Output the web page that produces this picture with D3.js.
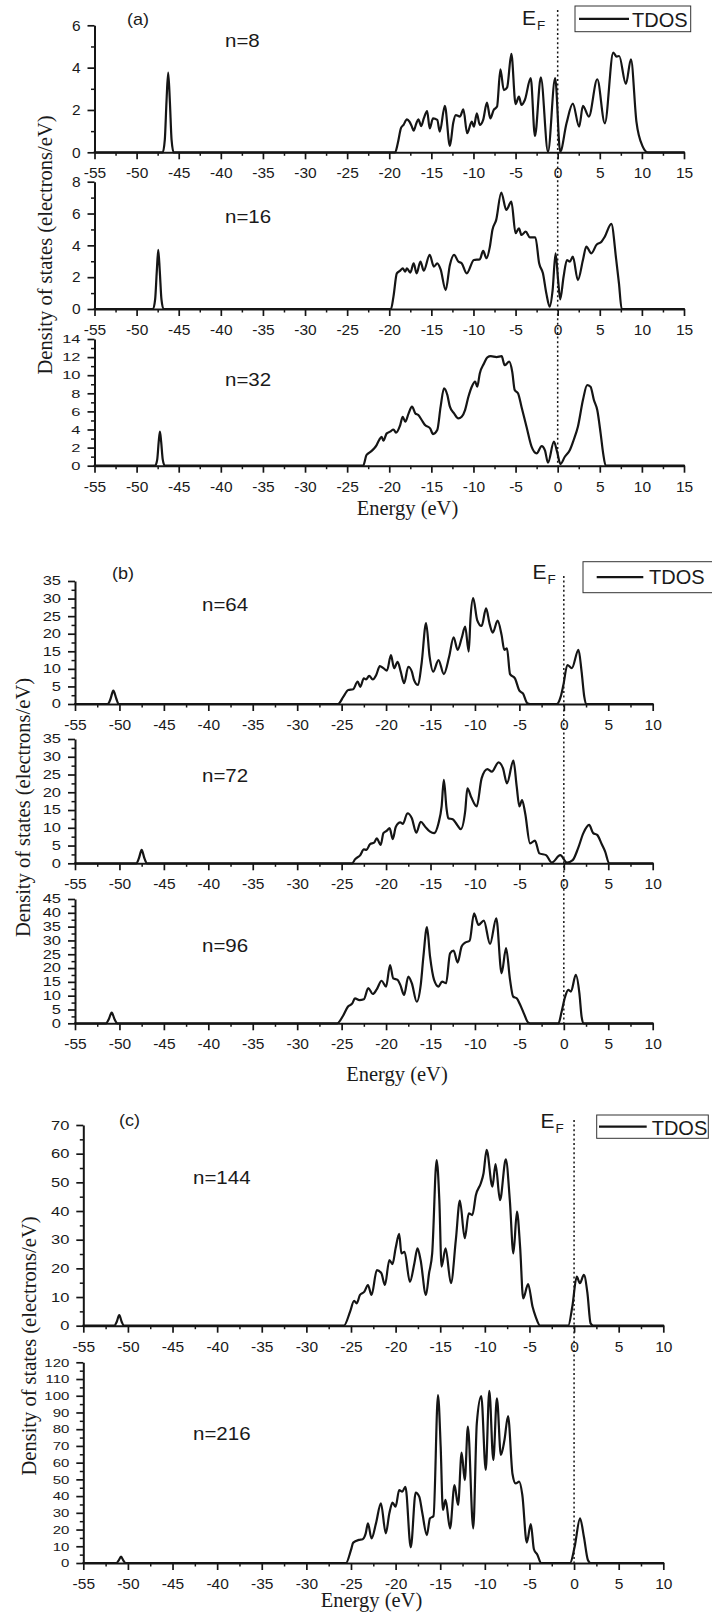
<!DOCTYPE html>
<html>
<head>
<meta charset="utf-8">
<script src="https://cdn.jsdelivr.net/npm/d3@7"></script>
<style>
  body { margin: 0; background: #fff; }
  svg { display: block; }
</style>
</head>
<body>
<svg id="fig" width="712" height="1615"></svg>
<script>
// ---- Total density of states, [energy (eV), DOS (electrons/eV)] ----
const dosN8 = [[-55,0],[-46.9,0],[-46.65,0.6],[-46.45,2.4],[-46.25,3.76],[-46.05,2.4],[-45.85,0.6],[-45.6,0],
  [-19.3,0],[-19.0,0.4],[-18.6,1.15],[-18.3,1.3],[-17.9,1.56],[-17.6,1.45],[-17.35,1.25],[-17.1,1.02],[-16.8,1.35],
  [-16.55,1.56],[-16.2,1.24],[-15.9,1.6],[-15.5,1.95],[-15.2,1.13],[-14.8,1.6],[-14.3,1.53],[-14.0,0.98],[-13.4,2.2],
  [-12.8,0.3],[-12.4,1.4],[-12.1,1.76],[-11.6,1.69],[-11.2,2.03],[-10.75,0.9],[-10.2,1.45],[-9.95,1.21],[-9.6,1.84],
  [-9.25,1.29],[-8.85,1.53],[-8.4,2.35],[-8.0,1.6],[-7.6,2.0],[-7.2,2.16],[-6.8,3.92],[-6.4,2.94],[-6.0,3.07],
  [-5.5,4.65],[-5.0,2.28],[-4.6,2.63],[-4.3,2.24],[-3.9,2.47],[-3.2,3.5],[-2.7,0.77],[-2.0,3.54],[-1.15,0.03],
  [-0.3,3.5],[0.3,0.03],[1.05,1.37],[1.8,2.3],[2.55,1.21],[3.0,2.19],[3.7,1.69],[4.7,3.45],[5.6,1.37],[6.6,4.71],
  [7.0,4.52],[7.3,4.55],[8.1,3.23],[8.7,4.39],[9.35,1.45],[10.1,0.27],[10.7,0],[15,0]];

const dosN16 = [[-55,0],[-48.05,0],[-47.8,0.6],[-47.6,2.4],[-47.43,3.71],[-47.25,2.4],[-47.05,0.6],[-46.8,0],
  [-19.8,0],[-19.5,0.78],[-19.1,2.24],[-18.7,2.41],[-18.4,2.56],[-18.1,2.35],[-17.9,2.56],[-17.5,2.29],[-17.1,2.87],
  [-16.75,2.24],[-16.3,2.98],[-15.9,2.41],[-15.2,3.4],[-14.7,2.66],[-14.3,2.87],[-13.9,2.49],[-13.3,1.19],[-12.8,2.77],
  [-12.3,3.4],[-11.8,2.98],[-11.4,2.87],[-10.8,2.24],[-9.95,3.08],[-9.25,3.12],[-8.85,3.65],[-8.45,3.19],[-8.05,3.92],
  [-7.75,4.97],[-7.3,5.6],[-6.7,7.32],[-6.1,6.23],[-5.5,6.75],[-5.0,4.76],[-4.6,5.07],[-4.3,4.65],[-3.8,4.86],
  [-3.3,4.5],[-2.65,4.5],[-2.2,2.87],[-1.75,2.24],[-1.35,0.99],[-0.95,0.15],[-0.6,1.19],[-0.25,3.5],[0.05,1.82],
  [0.3,0.61],[0.7,2.03],[1.1,3.08],[1.45,2.98],[1.8,3.29],[2.4,1.82],[3.0,3.08],[3.4,3.92],[4.0,3.5],[4.6,4.03],
  [5.2,4.23],[5.6,4.55],[6.37,5.35],[6.95,3.1],[7.28,1.6],[7.6,0],[15,0]];

const dosN32 = [[-55,0],[-47.8,0],[-47.55,0.7],[-47.38,2.6],[-47.23,3.76],[-47.08,2.6],[-46.9,0.7],[-46.65,0],
  [-23.1,0],[-22.7,1.18],[-22.2,1.55],[-21.8,1.9],[-21.5,2.28],[-21.2,2.84],[-20.9,3.2],[-20.7,2.76],[-20.3,3.57],
  [-19.9,3.76],[-19.5,4.0],[-19.2,3.65],[-18.7,4.49],[-18.4,5.41],[-18.1,4.86],[-17.7,5.78],[-17.3,6.52],[-16.9,5.78],
  [-16.55,5.6],[-16.15,5.05],[-15.75,4.49],[-15.15,4.13],[-14.8,3.5],[-14.3,3.94],[-13.9,6.52],[-13.5,8.55],
  [-13.1,7.81],[-12.8,6.52],[-12.3,5.78],[-11.8,5.23],[-11.4,5.41],[-11.0,6.15],[-10.6,7.62],[-10.2,8.73],[-9.8,9.28],
  [-9.55,8.73],[-9.25,10.2],[-8.75,11.3],[-8.35,11.97],[-7.95,12.1],[-7.25,12.0],[-6.65,12.1],[-6.3,11.1],
  [-5.75,11.5],[-5.4,10.4],[-5.1,8.36],[-4.7,7.99],[-4.3,6.52],[-3.7,4.3],[-3.1,2.1],[-2.5,1.36],[-1.9,2.17],
  [-1.5,1.66],[-1.15,0.33],[-0.45,2.65],[-0.07,1.55],[0.33,0.18],[0.85,0.99],[1.45,1.73],[1.9,2.84],[2.4,4.3],
  [3.0,7.26],[3.5,8.91],[3.9,8.73],[4.3,7.26],[4.7,6.15],[5.1,3.57],[5.4,1.36],[5.7,0],[15,0]];

const dosN64 = [[-55,0],[-51.3,0],[-51.0,1.5],[-50.69,3.8],[-50.35,1.5],[-50.1,0],
  [-25.4,0],[-24.8,2.1],[-24.25,4.0],[-23.7,4.2],[-23.2,6.4],[-22.9,4.9],[-22.5,7.3],[-22.25,7.0],[-21.9,8.0],
  [-21.5,7.0],[-21.1,8.3],[-20.7,10.8],[-20.3,10.2],[-19.9,9.5],[-19.45,13.9],[-19.1,10.2],[-18.7,12.0],[-18.35,9.2],
  [-17.97,5.9],[-17.5,10.6],[-17.1,9.2],[-16.85,6.8],[-16.4,5.4],[-16.0,11.6],[-15.5,23.0],[-15.1,13.5],[-14.7,9.2],
  [-14.1,12.5],[-13.5,8.5],[-12.9,13.5],[-12.4,19.0],[-11.95,15.4],[-11.5,18.7],[-11.1,22.0],[-10.7,14.9],
  [-10.5,24.4],[-10.2,30.1],[-9.75,23.9],[-9.25,22.2],[-8.75,27.2],[-8.35,22.8],[-8.0,20.3],[-7.45,23.7],[-7.0,19.6],
  [-6.7,15.4],[-6.4,15.8],[-6.05,8.5],[-5.5,7.3],[-5.0,3.8],[-4.6,3.0],[-4.1,0.2],[-3.8,0],[-0.8,0],[-0.35,2.1],
  [-0.05,5.4],[0.4,11.1],[0.9,10.2],[1.65,15.4],[2.0,9.2],[2.3,2.1],[2.5,0],[10,0]];

const dosN72 = [[-55,0],[-48.1,0],[-47.8,1.5],[-47.5,3.76],[-47.2,1.5],[-46.9,0],
  [-23.8,0],[-23.5,1.1],[-22.9,2.3],[-22.5,3.9],[-22.2,3.8],[-21.8,5.4],[-21.35,5.8],[-21.05,7.0],[-20.6,5.2],
  [-20.3,8.5],[-19.9,9.2],[-19.6,9.9],[-19.25,6.8],[-18.9,10.3],[-18.4,11.5],[-18.1,11.1],[-17.6,14.1],[-17.1,12.7],
  [-16.6,8.6],[-16.1,11.7],[-15.6,10.3],[-15.05,8.9],[-14.6,8.5],[-14.1,11.3],[-13.75,16.0],[-13.5,23.5],[-13.2,15.5],
  [-13.0,12.7],[-12.5,12.4],[-12.0,10.8],[-11.6,9.6],[-11.1,14.6],[-10.85,21.1],[-10.4,18.5],[-9.8,16.0],
  [-9.25,23.9],[-8.6,26.5],[-8.1,25.8],[-7.35,28.4],[-6.85,26.8],[-6.4,22.5],[-5.67,28.9],[-5.3,21.6],[-5.0,16.0],
  [-4.7,17.8],[-4.35,14.1],[-3.8,5.6],[-3.25,6.4],[-2.75,2.8],[-2.0,2.3],[-1.35,0.2],[-0.4,2.3],[0.35,0.2],
  [1.0,0.9],[1.6,4.2],[2.2,8.5],[2.85,10.8],[3.3,8.5],[3.75,8.0],[4.3,5.2],[4.65,3.3],[5.1,0],[10,0]];

const dosN96 = [[-55,0],[-51.5,0],[-51.2,1.5],[-50.87,3.86],[-50.55,1.5],[-50.25,0],
  [-25.5,0],[-24.85,2.65],[-24.3,6.0],[-23.8,7.2],[-23.5,9.05],[-23.0,8.4],[-22.5,8.7],[-22.0,12.7],[-21.5,10.6],
  [-21.05,12.3],[-20.5,15.4],[-20.0,13.3],[-19.55,21.1],[-19.2,16.3],[-18.7,15.7],[-18.4,13.9],[-17.97,10.3],
  [-17.5,16.9],[-17.1,14.5],[-16.55,7.8],[-16.1,13.9],[-15.8,24.1],[-15.4,34.8],[-15.05,24.1],[-14.6,15.7],
  [-14.1,13.3],[-13.7,15.1],[-13.25,14.5],[-12.8,25.3],[-12.4,26.3],[-11.95,22.0],[-11.5,27.8],[-11.1,29.2],
  [-10.6,29.9],[-10.1,39.8],[-9.6,35.6],[-9.0,37.2],[-8.3,28.7],[-7.6,38.0],[-7.0,18.1],[-6.5,27.2],[-6.05,15.7],
  [-5.7,9.65],[-5.3,9.05],[-4.9,6.6],[-4.5,3.6],[-4.0,0.2],[-3.8,0],[-0.6,0],[-0.25,4.2],[0.15,9.65],[0.5,12.1],
  [0.8,11.5],[1.35,17.5],[1.75,10.9],[2.0,2.4],[2.2,0],[10,0]];

const dosN144 = [[-55,0],[-51.5,0],[-51.25,1.4],[-50.97,3.7],[-50.7,1.4],[-50.45,0],
  [-25.8,0],[-25.1,4.9],[-24.65,8.7],[-24.35,7.8],[-24.0,10.7],[-23.5,11.9],[-23.1,14.2],[-22.7,10.7],[-22.1,19.4],
  [-21.6,18.3],[-21.2,14.2],[-20.7,22.9],[-20.35,21.5],[-20.0,27.0],[-19.6,32.0],[-19.35,25.2],[-19.0,25.8],
  [-18.4,15.3],[-17.9,21.7],[-17.55,27.0],[-17.2,22.9],[-16.6,10.7],[-16.25,18.3],[-15.9,25.2],[-15.4,57.8],
  [-15.1,43.8],[-14.85,20.6],[-14.4,27.0],[-13.8,14.8],[-13.25,29.9],[-12.8,43.6],[-12.25,30.5],[-11.8,39.2],
  [-11.4,38.6],[-11.0,45.6],[-10.45,49.7],[-10.15,53.1],[-9.8,61.3],[-9.15,48.5],[-8.8,56.4],[-8.3,43.8],
  [-7.65,58.0],[-7.2,43.8],[-6.8,25.2],[-6.4,39.8],[-6.05,27.6],[-5.7,9.5],[-5.15,14.5],[-4.65,6.6],[-4.3,3.1],
  [-3.8,0],[-0.65,0],[-0.2,6.6],[0.3,17.1],[0.65,14.8],[1.1,17.7],[1.5,11.3],[1.85,0.8],[2.15,0],[10,0]];

const dosN216 = [[-55,0],[-51.3,0],[-51.05,1.4],[-50.77,3.8],[-50.5,1.4],[-50.25,0],
  [-25.56,0],[-25.0,7.8],[-24.75,12.2],[-24.1,13.8],[-23.7,14.2],[-23.35,17.7],[-23.1,23.7],[-22.7,14.7],
  [-22.2,23.7],[-21.65,35.7],[-21.1,17.7],[-20.7,29.7],[-20.35,36.1],[-20.0,33.7],[-19.6,43.6],[-19.25,42.7],
  [-18.9,45.6],[-18.3,9.4],[-17.75,42.1],[-17.35,39.7],[-17.0,29.7],[-16.5,16.7],[-16.15,26.7],[-15.75,28.1],
  [-15.25,100.4],[-14.95,69.6],[-14.7,31.7],[-14.4,37.7],[-13.9,20.7],[-13.4,46.6],[-13.0,34.7],[-12.6,66.0],
  [-12.25,49.6],[-11.9,81.5],[-11.3,20.7],[-10.9,83.5],[-10.4,99.8],[-9.9,55.6],[-9.5,103.0],[-9.05,61.6],
  [-8.65,98.5],[-8.2,64.6],[-7.8,73.5],[-7.4,87.9],[-6.9,53.2],[-6.55,47.6],[-6.15,48.6],[-5.8,40.7],[-5.3,12.2],
  [-4.85,23.3],[-4.5,8.2],[-4.1,4.8],[-3.7,0],[-0.45,0],[0.07,9.8],[0.67,26.7],[1.1,15.7],[1.55,1.8],[1.85,0],[10,0]];

// ---- Tick values ----
const energyTicksA = [-55,-50,-45,-40,-35,-30,-25,-20,-15,-10,-5,0,5,10,15];
const energyTicksBC = [-55,-50,-45,-40,-35,-30,-25,-20,-15,-10,-5,0,5,10];
const dosTicksN8 = [0,2,4,6];
const dosTicksN16 = [0,2,4,6,8];
const dosTicksN32 = [0,2,4,6,8,10,12,14];
const dosTicksN64 = [0,5,10,15,20,25,30,35];
const dosTicksN72 = [0,5,10,15,20,25,30,35];
const dosTicksN96 = [0,5,10,15,20,25,30,35,40,45];
const dosTicksN144 = [0,10,20,30,40,50,60,70];
const dosTicksN216 = [0,10,20,30,40,50,60,70,80,90,100,110,120];

const sizeLabels = ["n=8","n=16","n=32","n=64","n=72","n=96","n=144","n=216"];
const groupLabels = ["(a)","(b)","(c)"];
const legendText = "TDOS";
const xTitle = "Energy (eV)";
const yTitle = "Density of states (electrons/eV)";

// ---- Layout ----
const SANS = "'Liberation Sans', Arial, Helvetica, sans-serif";
const SERIF = "'Liberation Serif', 'Times New Roman', serif";
const INK = "#151515";

const groups = [
  { name: groupLabels[0], left: 94.5, right: 684, xTicks: energyTicksA,
    tag: [127, 25], ef: [522, 25], efTop: 10, legend: {x: 575, y: 6, w: 115.7, h: 25.7, lx0: 579, lx1: 629, tx: 632, ty: 26.5},
    xTitlePos: [407.5, 515], yTitlePos: [51.5, 245] },
  { name: groupLabels[1], left: 75, right: 652.7, xTicks: energyTicksBC,
    tag: [112, 579], ef: [532.5, 579], efTop: 576, legend: {x: 583, y: 561.7, w: 140, h: 31, lx0: 596.7, lx1: 643.3, tx: 649, ty: 584},
    xTitlePos: [397, 1081], yTitlePos: [30, 807.5] },
  { name: groupLabels[2], left: 83.3, right: 663.3, xTicks: energyTicksBC,
    tag: [119, 1126], ef: [540.5, 1128], efTop: 1120, legend: {x: 596.7, y: 1115, w: 111.6, h: 23.3, lx0: 599, lx1: 646.7, tx: 651.7, ty: 1135},
    xTitlePos: [371.5, 1607], yTitlePos: [36, 1346] }
];

const panels = [
  { g: 0, data: dosN8,   yTicks: dosTicksN8,   base: 152.3,  top: 25.3,   lab: sizeLabels[0], lx: 225, ly: 46.7, yfs: 15.5, ysy: 0.95 },
  { g: 0, data: dosN16,  yTicks: dosTicksN16,  base: 309,    top: 181.7,  lab: sizeLabels[1], lx: 225, ly: 223,  yfs: 15.5, ysy: 0.95 },
  { g: 0, data: dosN32,  yTicks: dosTicksN32,  base: 465.7,  top: 339,    lab: sizeLabels[2], lx: 225, ly: 385.7, yfs: 16.5, ysy: 0.7 },
  { g: 1, data: dosN64,  yTicks: dosTicksN64,  base: 704,    top: 581,    lab: sizeLabels[3], lx: 202, ly: 611,  yfs: 16.5, ysy: 0.75 },
  { g: 1, data: dosN72,  yTicks: dosTicksN72,  base: 863.3,  top: 739,    lab: sizeLabels[4], lx: 202, ly: 782,  yfs: 16.5, ysy: 0.75 },
  { g: 1, data: dosN96,  yTicks: dosTicksN96,  base: 1023.3, top: 899,    lab: sizeLabels[5], lx: 202, ly: 952,  yfs: 16.5, ysy: 0.72 },
  { g: 2, data: dosN144, yTicks: dosTicksN144, base: 1325.7, top: 1125,   lab: sizeLabels[6], lx: 193, ly: 1184, yfs: 16.5, ysy: 0.78 },
  { g: 2, data: dosN216, yTicks: dosTicksN216, base: 1563,   top: 1362.3, lab: sizeLabels[7], lx: 193, ly: 1440, yfs: 15,   ysy: 0.78 }
];

const svg = d3.select("#fig");
const mids = t => t.slice(1).map((v, i) => (v + t[i]) / 2);

function styleAxis(sel, fs) {
  sel.attr("font-family", SANS).attr("font-size", fs);
  sel.select(".domain").attr("stroke", INK).attr("stroke-width", 2);
  sel.selectAll(".tick line").attr("stroke", INK).attr("stroke-width", 1.7);
  sel.selectAll(".tick text").attr("fill", "#1a1a1a");
}

panels.forEach(p => {
  const G = groups[p.g];
  const xt = G.xTicks;
  const x = d3.scaleLinear().domain([xt[0], xt[xt.length - 1]]).range([G.left, G.right]);
  const y = d3.scaleLinear().domain([0, p.yTicks[p.yTicks.length - 1]]).range([p.base, p.top]);
  p.x = x; p.y = y;
  const g = svg.append("g");

  // minor ticks
  g.append("g").attr("transform", `translate(0,${p.base})`)
    .call(d3.axisBottom(x).tickValues(mids(xt)).tickSize(3.5).tickSizeOuter(0).tickFormat(""))
    .call(s => { s.select(".domain").remove(); s.selectAll("line").attr("stroke", INK).attr("stroke-width", 1.5); });
  g.append("g").attr("transform", `translate(${G.left},0)`)
    .call(d3.axisLeft(y).tickValues(mids(p.yTicks)).tickSize(3.5).tickSizeOuter(0).tickFormat(""))
    .call(s => { s.select(".domain").remove(); s.selectAll("line").attr("stroke", INK).attr("stroke-width", 1.5); });

  // major energy axis
  g.append("g").attr("transform", `translate(0,${p.base})`)
    .call(d3.axisBottom(x).tickValues(xt).tickSize(7).tickPadding(8).tickSizeOuter(0).tickFormat(d => String(d)))
    .call(s => styleAxis(s, 15.5));

  // major DOS axis
  g.append("g").attr("transform", `translate(${G.left},0)`)
    .call(d3.axisLeft(y).tickValues(p.yTicks).tickSize(7).tickPadding(7).tickSizeOuter(0).tickFormat(d => String(d)))
    .call(s => {
      styleAxis(s, p.yfs);
      s.selectAll(".tick text").attr("transform", `scale(1,${p.ysy})`);
    });

  // DOS curve
  g.append("path").datum(p.data)
    .attr("fill", "none").attr("stroke", INK).attr("stroke-width", 2.2)
    .attr("stroke-linejoin", "round").attr("stroke-linecap", "round")
    .attr("d", d3.line().x(d => x(d[0])).y(d => y(d[1])).curve(d3.curveMonotoneX));

  // size label
  g.append("text").attr("transform", `translate(${p.lx},${p.ly}) scale(1,0.86)`)
    .attr("font-family", SANS).attr("font-size", 20.5).attr("fill", "#1a1a1a").text(p.lab);
});

groups.forEach((G, gi) => {
  const ps = panels.filter(p => p.g === gi);
  const x = ps[0].x;
  const x0 = x(0);
  const bottom = ps[ps.length - 1].base;

  // Fermi level
  svg.append("line").attr("x1", x0).attr("x2", x0).attr("y1", G.efTop).attr("y2", bottom)
    .attr("stroke", INK).attr("stroke-width", 1.5).attr("stroke-dasharray", "2,2.6");
  const ef = svg.append("text").attr("x", G.ef[0]).attr("y", G.ef[1])
    .attr("font-family", SANS).attr("font-size", 21).attr("fill", "#1a1a1a");
  ef.append("tspan").text("E");
  ef.append("tspan").attr("font-size", 13.5).attr("dy", 5).attr("dx", 1).text("F");

  // panel tag
  svg.append("text").attr("transform", `translate(${G.tag[0]},${G.tag[1]}) scale(1,0.9)`)
    .attr("font-family", SANS).attr("font-size", 18).attr("fill", "#1a1a1a").text(G.name);

  // legend
  const L = G.legend;
  svg.append("rect").attr("x", L.x).attr("y", L.y).attr("width", L.w).attr("height", L.h)
    .attr("fill", "#fff").attr("stroke", "#333").attr("stroke-width", 1);
  svg.append("line").attr("x1", L.lx0).attr("x2", L.lx1).attr("y1", L.y + L.h / 2).attr("y2", L.y + L.h / 2)
    .attr("stroke", INK).attr("stroke-width", 2.2);
  svg.append("text").attr("x", L.tx).attr("y", L.ty)
    .attr("font-family", SANS).attr("font-size", 20).attr("fill", "#1a1a1a").text(legendText);

  // axis titles
  svg.append("text").attr("x", G.xTitlePos[0]).attr("y", G.xTitlePos[1]).attr("text-anchor", "middle")
    .attr("font-family", SERIF).attr("font-size", 20.5).attr("fill", "#1a1a1a").text(xTitle);
  svg.append("text").attr("transform", `translate(${G.yTitlePos[0]},${G.yTitlePos[1]}) rotate(-90)`)
    .attr("text-anchor", "middle")
    .attr("font-family", SERIF).attr("font-size", 20.5).attr("fill", "#1a1a1a").text(yTitle);
});
</script>
</body>
</html>
